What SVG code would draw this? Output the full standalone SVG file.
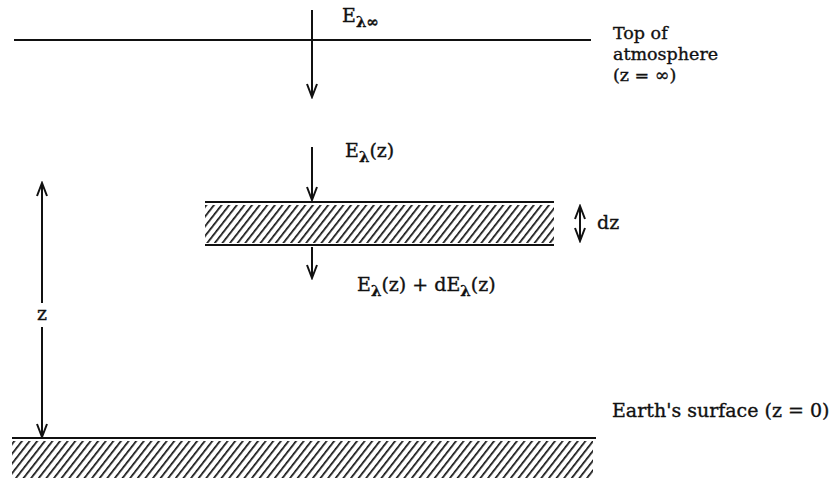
<svg xmlns="http://www.w3.org/2000/svg" width="834" height="480" viewBox="0 0 834 480">
<defs>
<style>
.ln{stroke:#111;stroke-width:2;fill:none}
.t{font-family:"DejaVu Serif","Liberation Serif",serif;font-size:19px;fill:#111;stroke:#111;stroke-width:0.35}
.s{font-size:17.5px}
.sub{font-size:15px;font-weight:bold}
</style>
<marker id="ah" viewBox="0 0 16 12" refX="14" refY="6" markerWidth="16" markerHeight="12" markerUnits="userSpaceOnUse" orient="auto-start-reverse">
<path d="M1,1 L14,6 L1,11" fill="none" stroke="#111" stroke-width="2"/>
</marker>
<pattern id="hatch" width="6" height="6" patternUnits="userSpaceOnUse" patternTransform="rotate(38)">
<rect width="6" height="6" fill="#fff"/>
<line x1="0" y1="0" x2="0" y2="6" stroke="#111" stroke-width="3.4"/>
</pattern>
</defs>
<rect width="834" height="480" fill="#fff"/>
<g id="top-of-atmosphere">
<line class="ln" x1="14" y1="40" x2="591" y2="40"/>
<text class="t s" x="613" y="39">Top of</text>
<text class="t s" x="613" y="60">atmosphere</text>
<text class="t s" x="613" y="81">(z = ∞)</text>
</g>
<g id="layer-dz">
<line class="ln" x1="205" y1="202" x2="554" y2="202"/>
<rect x="205" y="205" width="349" height="38" fill="url(#hatch)"/>
<line class="ln" x1="205" y1="245" x2="554" y2="245"/>
</g>
<g id="earth-surface">
<line class="ln" x1="12" y1="438" x2="596" y2="438"/>
<rect x="12" y="441" width="581" height="37" fill="url(#hatch)"/>
<text class="t" x="612" y="417">Earth's surface (z = 0)</text>
</g>
<g id="connectors">
<line class="ln" x1="312" y1="10" x2="312" y2="97" marker-end="url(#ah)"/>
<line class="ln" x1="312" y1="147" x2="312" y2="200" marker-end="url(#ah)"/>
<line class="ln" x1="312" y1="247" x2="312" y2="278" marker-end="url(#ah)"/>
<line class="ln" x1="580" y1="206" x2="580" y2="241" marker-start="url(#ah)" marker-end="url(#ah)"/>
<line class="ln" x1="42" y1="183" x2="42" y2="303" marker-start="url(#ah)"/>
<line class="ln" x1="42" y1="327" x2="42" y2="437" marker-end="url(#ah)"/>
</g>
<g id="labels">
<text class="t" x="342" y="22">E<tspan class="sub" dy="5">λ∞</tspan></text>
<text class="t" x="345" y="157">E<tspan class="sub" dy="5">λ</tspan><tspan dy="-5">(z)</tspan></text>
<text class="t" x="357" y="291">E<tspan class="sub" dy="5">λ</tspan><tspan dy="-5">(z) + dE</tspan><tspan class="sub" dy="5">λ</tspan><tspan dy="-5">(z)</tspan></text>
<text class="t" x="597" y="229">dz</text>
<text class="t" x="37" y="320">z</text>
</g>
</svg>
